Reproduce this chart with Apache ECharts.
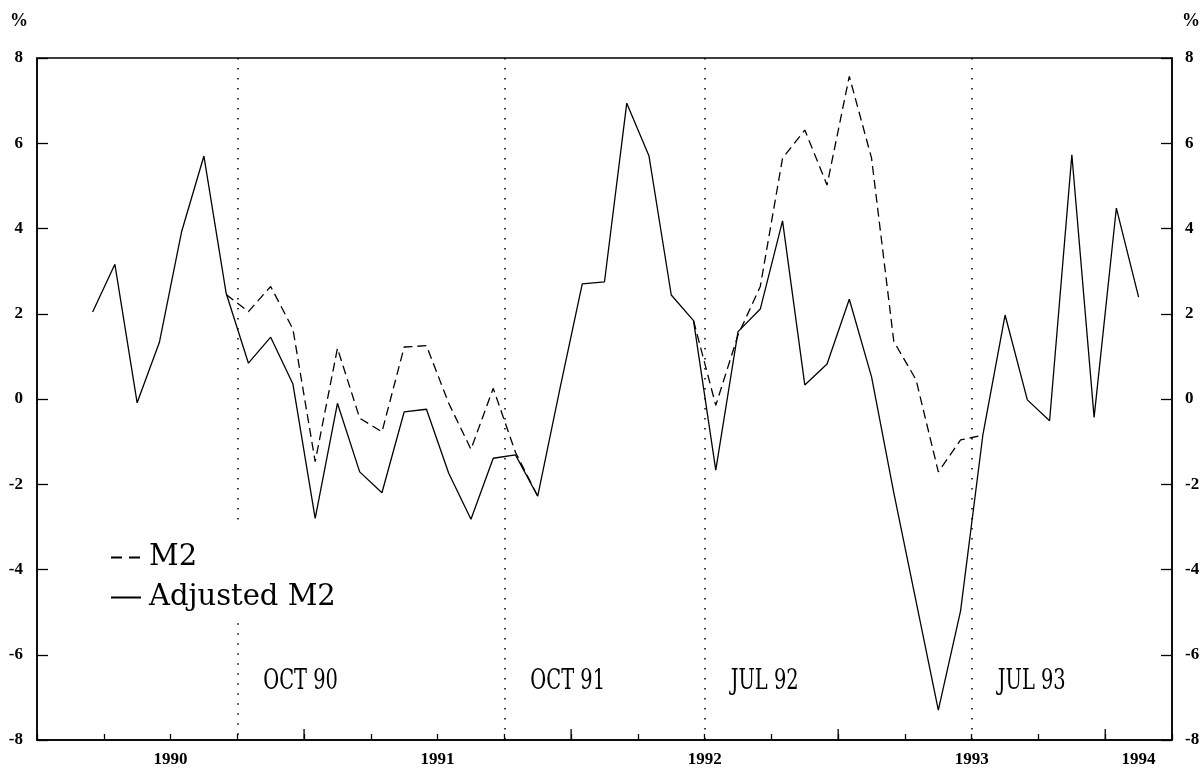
<!DOCTYPE html>
<html>
<head>
<meta charset="utf-8">
<script src="https://cdn.jsdelivr.net/npm/echarts@6/dist/echarts.min.js"></script>
<style>
  html, body { margin: 0; padding: 0; background: #ffffff; }
  #chart { width: 1203px; height: 769px; }
</style>
</head>
<body>
<div id="chart"></div>
<script>
// ---------------- DATA ----------------
// Monthly observations, Mar 1990 .. Feb 1994
const months = [
  'Mar 90','Apr 90','May 90','Jun 90','Jul 90','Aug 90','Sep 90','Oct 90','Nov 90','Dec 90',
  'Jan 91','Feb 91','Mar 91','Apr 91','May 91','Jun 91','Jul 91','Aug 91','Sep 91','Oct 91','Nov 91','Dec 91',
  'Jan 92','Feb 92','Mar 92','Apr 92','May 92','Jun 92','Jul 92','Aug 92','Sep 92','Oct 92','Nov 92','Dec 92',
  'Jan 93','Feb 93','Mar 93','Apr 93','May 93','Jun 93','Jul 93','Aug 93','Sep 93','Oct 93','Nov 93','Dec 93',
  'Jan 94','Feb 94'
];
// months between the axis origin (start of Jan 1990) and the first observation
const firstMonthOffset = 2;

const adjustedM2 = [
  2.04, 3.16, -0.09, 1.33, 3.93, 5.70, 2.48, 0.84, 1.45, 0.35,
  -2.80, -0.10, -1.71, -2.20, -0.30, -0.24, -1.74, -2.82, -1.39, -1.31, -2.28, 0.25,
  2.70, 2.75, 6.94, 5.70, 2.44, 1.84, -1.67, 1.58, 2.11, 4.18, 0.33, 0.82,
  2.34, 0.52, -2.20, -4.75, -7.30, -4.97, -0.85, 1.97, -0.02, -0.51, 5.73, -0.43,
  4.48, 2.39
];

const m2 = [
  null, null, null, null, null, null, 2.45, 2.05, 2.64, 1.64,
  -1.47, 1.19, -0.45, -0.77, 1.22, 1.25, -0.10, -1.18, 0.25, -1.25, -2.28, null,
  null, null, null, null, null, 1.84, -0.15, 1.50, 2.64, 5.65, 6.31, 5.02,
  7.57, 5.65, 1.35, 0.45, -1.71, -0.96, -0.85, null, null, null, null, null,
  null, null
];

// x-axis: months counted from start of Jan 1990
const yearLabels = ['1990', '1991', '1992', '1993', '1994'];
const yearLabelPos = [6, 18, 30, 42, 49.5];
const januaryTicks = [12, 24, 36, 48];

const eventLabels = ['OCT 90', 'OCT 91', 'JUL 92', 'JUL 93'];
const eventPos = [9, 21, 30, 42];

const yTickLabels = ['-8', '-6', '-4', '-2', '0', '2', '4', '6', '8'];

// ---------------- LAYOUT / STYLE ----------------
const axisFont = { fontFamily: 'Liberation Serif', fontWeight: 'bold', fontSize: 17, color: '#000' };
const eventLabelY = -6.64;      // vertical level of the event captions (value units)
const legendGap = { index: 0, from: -2.98, to: -5.26 }; // dotted line interrupted by legend

const toPoints = (vals) => vals.map((v, i) => [firstMonthOffset + i + 0.5, v]);

const eventLineData = [];
eventPos.forEach((p, i) => {
  if (i === legendGap.index) {
    eventLineData.push([{ coord: [p, 8] }, { coord: [p, legendGap.from] }]);
    eventLineData.push([{ coord: [p, legendGap.to] }, { coord: [p, -8] }]);
  } else {
    eventLineData.push([{ coord: [p, 8] }, { coord: [p, -8] }]);
  }
});

const chart = echarts.init(document.getElementById('chart'), null, { renderer: 'canvas' });

const yAxisCommon = {
  type: 'value', min: -8, max: 8, interval: 2,
  splitLine: { show: false },
  axisLine: { show: true, lineStyle: { color: '#000', width: 1.5 } },
  axisTick: { show: true, inside: true, length: 11, lineStyle: { color: '#000', width: 1.3 } },
  name: '%', nameLocation: 'end', nameGap: 37
};

chart.setOption({
  animation: false,
  backgroundColor: '#fff',
  grid: { left: 37, right: 31, top: 58, bottom: 29, show: true, borderColor: '#000', borderWidth: 1.5 },
  legend: {
    orient: 'vertical', left: 110, top: 543, padding: 0,
    itemWidth: 30, itemHeight: 14, itemGap: 11,
    itemStyle: { color: 'rgba(0,0,0,0)', borderColor: 'rgba(0,0,0,0)', borderWidth: 0, opacity: 0 },
    textStyle: { fontFamily: 'DejaVu Serif', fontSize: 29, color: '#000', padding: [0, 0, 0, 3] },
    data: [
      { name: 'M2', lineStyle: { type: [11, 7] } },
      { name: 'Adjusted M2' }
    ]
  },
  xAxis: {
    type: 'value', min: 0, max: 51, interval: 3,
    splitLine: { show: false },
    axisLine: { show: true, onZero: false, lineStyle: { color: '#000', width: 1.5 } },
    axisTick: { show: true, inside: true, length: 6, lineStyle: { color: '#000', width: 1.3 } },
    axisLabel: Object.assign({
      margin: 11,
      customValues: yearLabelPos,
      formatter: (v) => {
        const k = yearLabelPos.findIndex(p => Math.abs(p - v) < 1e-6);
        return k >= 0 ? yearLabels[k] : '';
      }
    }, axisFont)
  },
  yAxis: [
    Object.assign({}, yAxisCommon, {
      position: 'left',
      axisLabel: Object.assign({ margin: 14, formatter: (v) => yTickLabels[(v + 8) / 2] }, axisFont),
      nameTextStyle: { fontFamily: 'Liberation Serif', fontWeight: 'bold', fontSize: 18, color: '#000',
                       align: 'center', verticalAlign: 'middle', padding: [0, 36, 0, 0] }
    }),
    Object.assign({}, yAxisCommon, {
      position: 'right',
      axisLabel: Object.assign({ margin: 13, formatter: (v) => yTickLabels[(v + 8) / 2] }, axisFont),
      nameTextStyle: { fontFamily: 'Liberation Serif', fontWeight: 'bold', fontSize: 18, color: '#000',
                       align: 'center', verticalAlign: 'middle', padding: [0, 0, 0, 38] }
    })
  ],
  series: [
    {
      name: 'Adjusted M2', type: 'line', symbol: 'none', z: 3,
      data: toPoints(adjustedM2),
      lineStyle: { color: '#000', width: 1.3, type: 'solid' },
      itemStyle: { color: '#000' },
      markLine: {
        silent: true, symbol: 'none', label: { show: false },
        lineStyle: { color: '#000', type: [1.5, 8.5], width: 1.5 },
        emphasis: { disabled: true },
        data: eventLineData
      }
    },
    {
      name: 'M2', type: 'line', symbol: 'none', z: 4, connectNulls: false,
      data: toPoints(m2),
      lineStyle: { color: '#000', width: 1.3, type: [9, 5] },
      itemStyle: { color: '#000' }
    },
    {
      // longer ticks at the start of each calendar year
      name: 'yearTicks', type: 'custom', silent: true, z: 5,
      data: januaryTicks.map(v => [v, -8]),
      renderItem: (params, api) => {
        const p = api.coord([api.value(0), api.value(1)]);
        return { type: 'line', shape: { x1: p[0], y1: p[1], x2: p[0], y2: p[1] - 11 },
                 style: { stroke: '#000', lineWidth: 1.3 } };
      }
    },
    {
      // event captions beside the dotted lines
      name: 'events', type: 'custom', silent: true, z: 5,
      data: eventPos.map((p, i) => [p, eventLabelY, i]),
      renderItem: (params, api) => {
        const p = api.coord([api.value(0), api.value(1)]);
        return {
          type: 'text', x: p[0] + 26, y: p[1], scaleX: 0.72,
          style: { text: eventLabels[api.value(2)], fill: '#000',
                   font: '27px "DejaVu Serif"', align: 'left', verticalAlign: 'middle' }
        };
      }
    }
  ]
});
</script>
</body>
</html>
